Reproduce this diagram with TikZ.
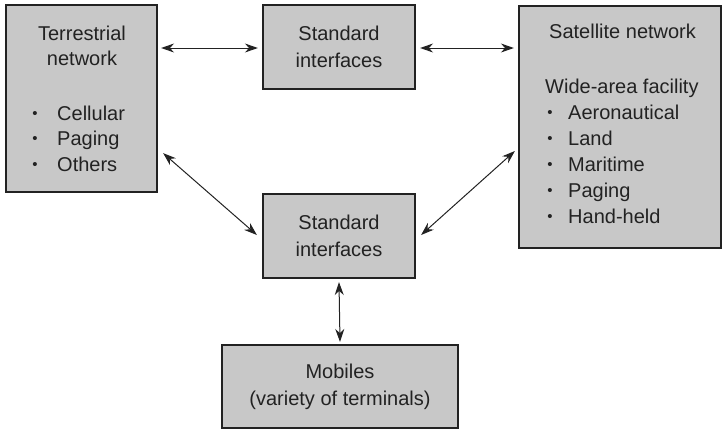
\documentclass[tikz,border=0pt]{standalone}
\usepackage{fontspec}
\setmainfont{Liberation Sans}
\usetikzlibrary{arrows.meta,calc}
\definecolor{boxfill}{HTML}{C8C8C8}
\definecolor{ink}{HTML}{222222}
\begin{document}
\begin{tikzpicture}[x=1pt,y=-1pt,
  every node/.style={font=\fontsize{20}{27}\selectfont, text=ink},
  box/.style={draw=ink, line width=2.2pt, fill=boxfill, inner sep=0pt, align=center},
  txt/.style={anchor=base west, inner sep=0pt},
  ctxt/.style={anchor=base, inner sep=0pt},
  bul/.style={anchor=base, inner sep=0pt, font=\fontsize{15}{15}\selectfont, yshift=2pt},
  link/.style={{Stealth[length=13pt,width=9pt]}-{Stealth[length=13pt,width=9pt]}, line width=1pt, draw=ink}]
\useasboundingbox (0,0) rectangle (724,432);

% boxes
\node[box, minimum width=151, minimum height=187] (T) at (81.5,98.5) {};
\node[box, minimum width=152, minimum height=84] (S1) at (339,47) {Standard\\interfaces};
\node[box, minimum width=202, minimum height=242] (Sat) at (620,127) {};
\node[box, minimum width=152, minimum height=84] (S2) at (339,236) {Standard\\interfaces};
\node[box, minimum width=236, minimum height=83] (Mob) at (340,386.5) {Mobiles\\(variety of terminals)};

% terrestrial text
\node[ctxt] (t1) at (82,40) {Terrestrial};
\node[ctxt] (t2) at (82,65) {network};
\node[bul] (tb1) at (35,120) {•};
\node[txt] (ti1) at (57,120) {Cellular};
\node[bul] (tb2) at (35,145.5) {•};
\node[txt] (ti2) at (57,145.5) {Paging};
\node[bul] (tb3) at (35,171) {•};
\node[txt] (ti3) at (57,171) {Others};

% satellite text
\node[txt] (s1) at (549,38.5) {Satellite network};
\node[txt] (s2) at (545,93) {Wide-area facility};
\node[bul] (sb1) at (550,119) {•};
\node[txt] (si1) at (568,119) {Aeronautical};
\node[bul] (sb2) at (550,145) {•};
\node[txt] (si2) at (568,145) {Land};
\node[bul] (sb3) at (550,171) {•};
\node[txt] (si3) at (568,171) {Maritime};
\node[bul] (sb4) at (550,197) {•};
\node[txt] (si4) at (568,197) {Paging};
\node[bul] (sb5) at (550,223) {•};
\node[txt] (si5) at (568,223) {Hand-held};

% connectors
\draw[link] ($(T.east)+(3,-50.5)$) -- ($(S1.west)+(-4,1)$);
\draw[link] ($(S1.east)+(4,1)$) -- ($(Sat.west)+(-4,-79)$);
\draw[link] ($(T.south east)+(5,-40)$) -- ($(S2.west)+(-5,-1)$);
\draw[link] ($(Sat.west)+(-3,24)$) -- ($(S2.east)+(5,-1)$);
\draw[link] ($(S2.south)+(0,3)$) -- ($(Mob.north)+(0,-2)$);
\end{tikzpicture}
\end{document}
